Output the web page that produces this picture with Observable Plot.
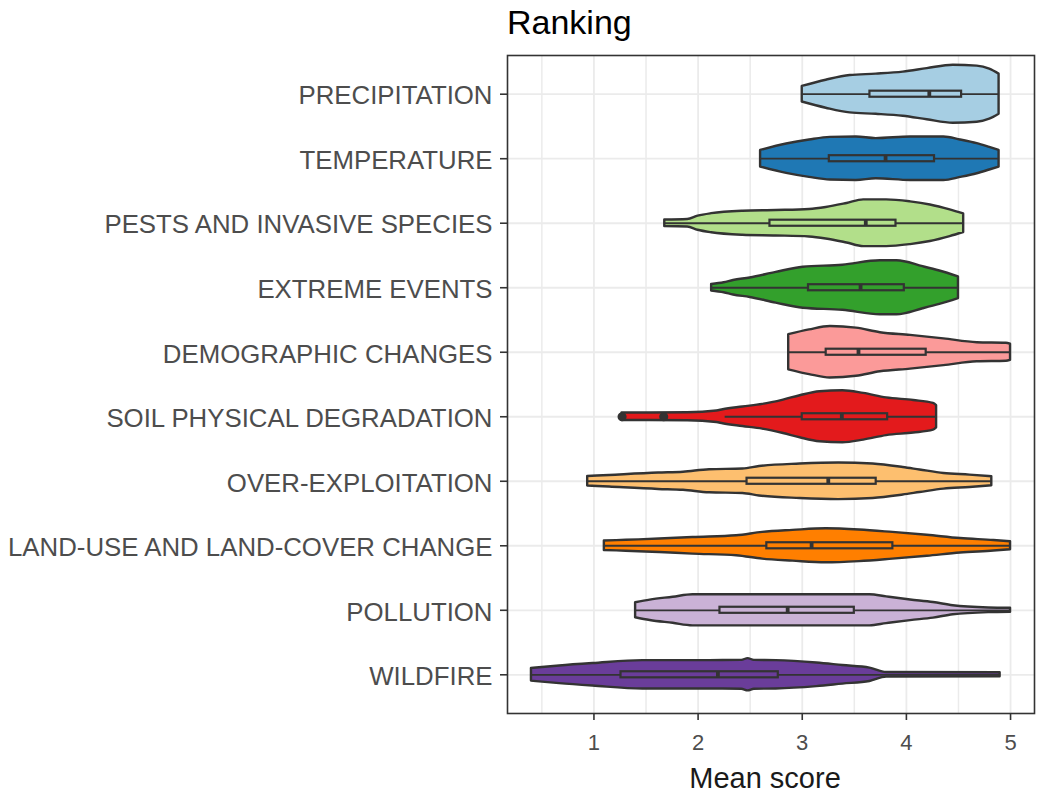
<!DOCTYPE html>
<html><head><meta charset="utf-8">
<script src="https://cdn.jsdelivr.net/npm/d3@7"></script>
<script src="https://cdn.jsdelivr.net/npm/@observablehq/plot@0.6"></script>
<style>
body{margin:0;background:#fff;font-family:"Liberation Sans",Arial,sans-serif;}
#title{height:45px;padding-left:507px;font-size:34px;line-height:45px;color:#000;white-space:nowrap;}
</style></head><body>
<div id="title">Ranking</div>
<div id="chart"></div>
<script>
// Categories, top to bottom
const categories = ["PRECIPITATION","TEMPERATURE","PESTS AND INVASIVE SPECIES","EXTREME EVENTS","DEMOGRAPHIC CHANGES","SOIL PHYSICAL DEGRADATION","OVER-EXPLOITATION","LAND-USE AND LAND-COVER CHANGE","POLLUTION","WILDFIRE"];
const colors = ["#a6cee3","#1f78b4","#b2df8a","#33a02c","#fb9a99","#e31a1c","#fdbf6f","#ff7f00","#cab2d6","#6a3d9a"];
const xTicks = [1, 2, 3, 4, 5];
const xMinorTicks = [0.5, 1.5, 2.5, 3.5, 4.5];

// Violin profiles: score and half-width (density, as a share of the category band)
const precipitationScore   = [3.00, 3.23, 3.46, 3.71, 3.97, 4.20, 4.45, 4.68, 4.80, 4.89];
const precipitationDensity = [0.121, 0.217, 0.290, 0.311, 0.342, 0.396, 0.450, 0.435, 0.388, 0.311];
const temperatureScore     = [2.60, 2.85, 3.07, 3.27, 3.52, 3.71, 4.04, 4.36, 4.52, 4.68, 4.80, 4.89];
const temperatureDensity   = [0.129, 0.228, 0.290, 0.331, 0.337, 0.311, 0.337, 0.337, 0.290, 0.233, 0.175, 0.129];
const pestsScore           = [1.68, 1.90, 2.00, 2.13, 2.43, 2.75, 3.07, 3.23, 3.43, 3.59, 3.81, 4.04, 4.23, 4.42, 4.55];
const pestsDensity         = [0.050, 0.058, 0.109, 0.148, 0.186, 0.197, 0.213, 0.244, 0.306, 0.362, 0.362, 0.331, 0.283, 0.207, 0.144];
const extremeScore         = [2.13, 2.25, 2.34, 2.50, 2.75, 3.01, 3.39, 3.75, 3.91, 4.16, 4.32, 4.50];
const extremeDensity       = [0.050, 0.078, 0.112, 0.151, 0.238, 0.318, 0.349, 0.419, 0.419, 0.326, 0.259, 0.168];
const demographicScore     = [2.87, 3.07, 3.27, 3.52, 3.75, 4.04, 4.36, 4.68, 4.96, 5.00];
const demographicDensity   = [0.272, 0.346, 0.399, 0.373, 0.303, 0.261, 0.207, 0.148, 0.140, 0.124];
const soilScore            = [1.27, 1.90, 2.18, 2.24, 2.43, 2.62, 2.82, 2.98, 3.17, 3.39, 3.59, 3.81, 4.07, 4.26, 4.29];
const soilDensity          = [0.058, 0.062, 0.090, 0.109, 0.151, 0.191, 0.259, 0.326, 0.388, 0.404, 0.362, 0.292, 0.252, 0.207, 0.171];
const overScore            = [0.94, 1.15, 1.62, 1.86, 2.11, 2.43, 2.59, 2.98, 3.35, 3.68, 3.97, 4.13, 4.36, 4.61, 4.82];
const overDensity          = [0.073, 0.090, 0.127, 0.140, 0.179, 0.189, 0.228, 0.267, 0.284, 0.267, 0.213, 0.175, 0.121, 0.096, 0.070];
const landScore            = [1.10, 1.31, 1.63, 1.95, 2.37, 2.62, 2.91, 3.23, 3.55, 3.87, 4.20, 4.52, 4.84, 5.00];
const landDensity          = [0.073, 0.085, 0.104, 0.129, 0.155, 0.207, 0.238, 0.264, 0.245, 0.207, 0.163, 0.112, 0.082, 0.062];
const pollutionScore       = [1.40, 1.54, 1.76, 1.95, 2.75, 3.65, 3.81, 4.04, 4.26, 4.45, 4.79, 5.00];
const pollutionDensity     = [0.116, 0.158, 0.202, 0.241, 0.241, 0.241, 0.207, 0.160, 0.121, 0.070, 0.036, 0.031];
const wildfireScore        = [0.40, 0.67, 0.99, 1.47, 2.11, 2.42, 2.48, 2.54, 2.75, 3.14, 3.39, 3.65, 3.81, 4.90];
const wildfireDensity      = [0.098, 0.137, 0.174, 0.220, 0.220, 0.224, 0.250, 0.224, 0.220, 0.183, 0.144, 0.104, 0.036, 0.031];

// Box plot statistics
const whiskerLow  = [3.00, 2.60, 1.68, 2.13, 2.87, 2.26, 0.94, 1.10, 1.40, 0.40];
const quartile1   = [3.65, 3.26, 2.69, 3.06, 3.23, 3.00, 2.47, 2.66, 2.21, 1.26];
const medians     = [4.22, 3.80, 3.61, 3.56, 3.54, 3.38, 3.25, 3.09, 2.86, 2.19];
const quartile3   = [4.53, 4.27, 3.90, 3.98, 4.19, 3.82, 3.71, 3.87, 3.50, 2.77];
const whiskerHigh = [4.89, 4.89, 4.55, 4.50, 5.00, 4.29, 4.82, 5.00, 5.00, 4.90];
const outlierCategory = ["SOIL PHYSICAL DEGRADATION", "SOIL PHYSICAL DEGRADATION"];
const outlierScore    = [1.27, 1.67];

const profiles = [
  [precipitationScore, precipitationDensity],
  [temperatureScore, temperatureDensity],
  [pestsScore, pestsDensity],
  [extremeScore, extremeDensity],
  [demographicScore, demographicDensity],
  [soilScore, soilDensity],
  [overScore, overDensity],
  [landScore, landDensity],
  [pollutionScore, pollutionDensity],
  [wildfireScore, wildfireDensity]
];

const violinRows = profiles.flatMap(([xs, ws], i) =>
  xs.map((x, j) => ({cat: categories[i], pos: i, x, y1: i - ws[j], y2: i + ws[j]})));
const boxHalf = 0.047;
const boxRows = categories.map((cat, i) => ({
  cat, pos: i, lo: whiskerLow[i], q1: quartile1[i], med: medians[i], q3: quartile3[i], hi: whiskerHigh[i]
}));
const outlierRows = outlierScore.map((x, k) => ({x, pos: categories.indexOf(outlierCategory[k])}));

const ink = "#333333";
const gridColor = "#ebebeb";
const yTickPos = d3.range(categories.length);

const chart = Plot.plot({
  width: 1037,
  height: 750,
  marginLeft: 507,
  marginRight: 3,
  marginTop: 10,
  marginBottom: 82,
  style: {fontFamily: "'Liberation Sans', Arial, sans-serif", background: "#fff", overflow: "visible"},
  x: {domain: [0.17, 5.23]},
  y: {domain: [9.6, -0.6]},
  color: {domain: categories, range: colors},
  marks: [
    Plot.gridX(xMinorTicks, {stroke: gridColor, strokeOpacity: 1, strokeWidth: 1.5}),
    Plot.gridX(xTicks, {stroke: gridColor, strokeOpacity: 1, strokeWidth: 1.8}),
    Plot.gridY(yTickPos, {stroke: gridColor, strokeOpacity: 1, strokeWidth: 1.8}),
    Plot.areaY(violinRows, {x: "x", y1: "y1", y2: "y2", z: "cat", fill: "cat", stroke: ink, strokeWidth: 2.4, curve: "monotone-x"}),
    Plot.ruleY(boxRows, {y: "pos", x1: "lo", x2: "hi", stroke: ink, strokeWidth: 1.8}),
    Plot.rect(boxRows, {x1: "q1", x2: "q3", y1: d => d.pos - boxHalf, y2: d => d.pos + boxHalf, fill: "cat", stroke: ink, strokeWidth: 2.2}),
    Plot.ruleX(boxRows, {x: "med", y1: d => d.pos - boxHalf, y2: d => d.pos + boxHalf, stroke: ink, strokeWidth: 3.8}),
    Plot.dot(outlierRows, {x: "x", y: "pos", r: 3.8, fill: ink, stroke: ink}),
    Plot.frame({stroke: ink, strokeWidth: 1.6}),
    Plot.axisY(yTickPos, {tickFormat: () => "", stroke: ink, strokeWidth: 1.6, tickSize: 7, label: null}),
    Plot.axisY(yTickPos, {tickFormat: i => categories[i], fontSize: 25.8, fill: "#4d4d4d", tickSize: 0, tickPadding: 15, dy: 2, label: null}),
    Plot.axisX(xTicks, {fontSize: 22, fill: "#4d4d4d", stroke: ink, strokeWidth: 1.6, tickSize: 7, tickPadding: 14, label: null}),
    Plot.text(["Mean score"], {frameAnchor: "bottom", dy: 74, dx: -6, fontSize: 29, lineAnchor: "bottom", fill: "#1a1a1a"})
  ]
});
document.getElementById("chart").appendChild(chart);
</script></body></html>
